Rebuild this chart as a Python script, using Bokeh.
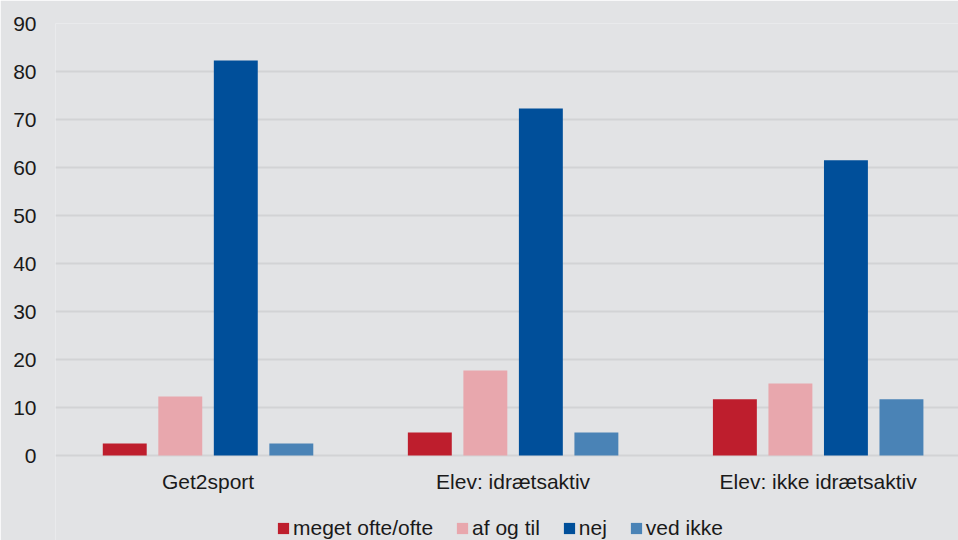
from bokeh.plotting import figure
from bokeh.models import ColumnDataSource, Range1d, FixedTicker, Legend, LegendItem
from bokeh.transform import dodge
from bokeh.embed import file_html
from bokeh.resources import INLINE

groups = ["Get2sport", "Elev: idrætsaktiv", "Elev: ikke idrætsaktiv"]
series = ["meget ofte/ofte", "af og til", "nej", "ved ikke"]
meget_ofte = [2.5, 4.8, 11.7]
af_og_til = [12.3, 17.7, 15.0]
nej = [82.3, 72.3, 61.5]
ved_ikke = [2.5, 4.8, 11.7]
y_ticks = [0, 10, 20, 30, 40, 50, 60, 70, 80, 90]

colors = ["#be1e2d", "#e8a7ad", "#004f9a", "#4a83b6"]
offsets = [-0.273, -0.091, 0.091, 0.273]
BG = "#e2e3e5"
FONT = "Liberation Sans"
TXT = "#1a1a1a"

xpos = [i + 0.5 for i in range(len(groups))]
src = ColumnDataSource(dict(x=xpos, s0=meget_ofte, s1=af_og_til, s2=nej, s3=ved_ikke))

# the frame runs to the bottom edge; the space under 0 holds group labels and legend
p = figure(width=958, height=540, output_backend="svg", toolbar_location=None,
           x_range=Range1d(0, 2.96), y_range=Range1d(-17.708, 90),
           background_fill_color=BG, border_fill_color=BG, outline_line_color=None,
           min_border_left=55, min_border_top=23, min_border_right=0, min_border_bottom=0)

renderers = []
for i, key in enumerate(["s0", "s1", "s2", "s3"]):
    r = p.vbar(x=dodge("x", offsets[i]), top=key, width=0.144, bottom=0, source=src,
               fill_color=colors[i], line_color=None)
    renderers.append(r)

p.xaxis.ticker = FixedTicker(ticks=xpos)
p.xaxis.major_label_overrides = {x: g for x, g in zip(xpos, groups)}
p.xaxis.fixed_location = 0
p.yaxis.ticker = FixedTicker(ticks=y_ticks)

for ax in (p.xaxis[0], p.yaxis[0]):
    ax.axis_line_color = None
    ax.major_tick_line_color = None
    ax.minor_tick_line_color = None
    ax.major_tick_out = 0
    ax.major_tick_in = 0
    ax.major_label_text_font = FONT
    ax.major_label_text_font_size = "21px"
    ax.major_label_text_color = TXT
p.yaxis.major_label_standoff = 19
p.xaxis.major_label_standoff = 14

p.xgrid.grid_line_color = None
p.ygrid.grid_line_color = "#d2d3d5"
p.ygrid.grid_line_width = 2

legend = Legend(items=[LegendItem(label=s, renderers=[r]) for s, r in zip(series, renderers)],
                orientation="horizontal", location=(221, 0),
                background_fill_alpha=0, border_line_color=None,
                label_text_font=FONT, label_text_font_size="21px", label_text_color=TXT,
                glyph_width=14, glyph_height=14, label_standoff=3, spacing=22,
                padding=0, margin=0)
p.add_layout(legend, "center")

html = file_html(p, INLINE)
html = html.replace("<body>", '<body style="background-color:%s;">' % BG, 1)
open("out.html", "w").write(html)
